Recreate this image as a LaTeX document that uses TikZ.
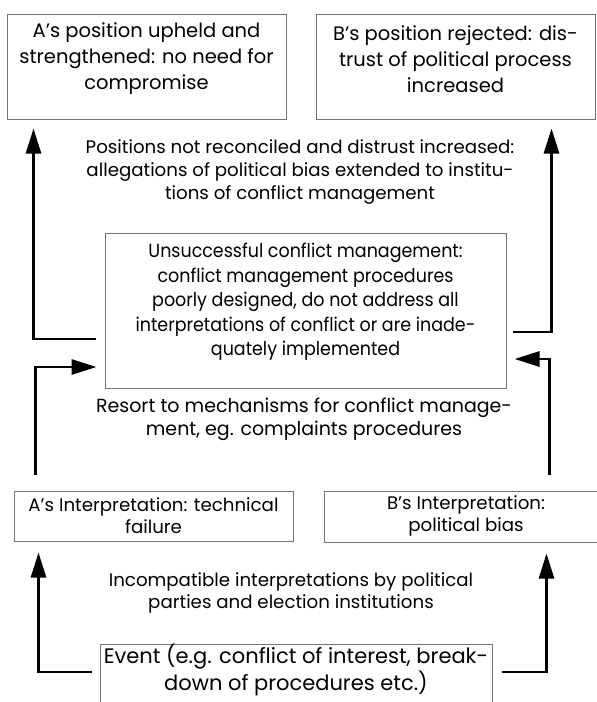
\documentclass[tikz,border=0pt]{standalone}
\usepackage{fontspec}
\setmainfont{Poppins}
\newfontfamily\midfont{Poppins}[FakeStretch=0.92]
\usetikzlibrary{arrows.meta,calc}
\tikzset{
  boxnode/.style={draw=black!55, line width=1pt, rectangle, inner sep=0pt},
  boxtext/.style={align=center, inner sep=0pt, font=\fontsize{19.5}{26}\selectfont},
  midtext/.style={align=center, inner sep=0pt, font=\midfont\fontsize{19}{24.5}\selectfont},
  smalltext/.style={align=center, inner sep=0pt, font=\fontsize{18.2}{22}\selectfont},
  eventtext/.style={align=center, inner sep=0pt, font=\fontsize{21}{24}\selectfont},
  labeltext/.style={align=center, inner sep=0pt, font=\fontsize{18.2}{23}\selectfont},
  arr/.style={line width=2.8pt, -{Triangle[length=25pt,width=15pt]}},
}
\begin{document}
\begin{tikzpicture}[x=1pt,y=-1pt]
\useasboundingbox (0,0) rectangle (597,702);
% boxes
\node[boxnode, minimum width=279, minimum height=105] (apos) at (146.5,66.5) {};
\node[boxnode, minimum width=279, minimum height=105] (bpos) at (455.5,66.5) {};
\node[boxnode, minimum width=401, minimum height=155] (mid) at (305.5,310.5) {};
\node[boxnode, minimum width=279, minimum height=50] (aint) at (153.5,516) {};
\node[boxnode, minimum width=286, minimum height=51] (bint) at (467,516.5) {};
\node[boxnode, minimum width=392, minimum height=76] (event) at (296,682) {};
% box texts
\node[boxtext] (apost) at (146.5,59) {A's position upheld and\\strengthened: no need for\\compromise};
\node[boxtext] (bpost) at (455.5,59) {B's position rejected: dis-\\trust of political process\\increased};
\node[midtext] (midt) at (305.5,302) {Unsuccessful conflict management:\\conflict management procedures\\poorly designed, do not address all\\interpretations of conflict or are inade-\\quately implemented};
\node[smalltext] (aintt) at (153.5,516) {A's Interpretation: technical\\failure};
\node[smalltext] (bintt) at (466,516) {B's Interpretation:\\political bias};
\node[eventtext] (eventt) at (296,670) {Event (e.g. conflict of interest, break-\\down of procedures etc.)};
% labels
\node[labeltext] (lab1) at (300,172) {Positions not reconciled and distrust increased:\\allegations of political bias extended to institu-\\tions of conflict management};
\node[labeltext, font=\fontsize{19}{23}\selectfont] (lab2) at (304,419.5) {Resort to mechanisms for conflict manage-\\ment, eg. complaints procedures};
\node[labeltext, font=\fontsize{18.2}{22}\selectfont] (lab3) at (291,593) {Incompatible interpretations by political\\parties and election institutions};
% connectors
\draw[arr] ($(mid.west)+(-9,28.5)$) -| ($(apos.south west)+(27,9)$);
\draw[arr] ($(mid.east)+(6,21.5)$) -| ($(bpos.south east)+(-44,9)$);
\draw[arr] ($(aint.north west)+(22,-16)$) |- ($(mid.west)+(-8,56.5)$);
\draw[arr] ($(bint.north west)+(226,-16)$) |- ($(mid.east)+(8,48.5)$);
\draw[arr] ($(event.west)+(-8,-10)$) -| ($(aint.south west)+(25,11)$);
\draw[arr] ($(event.east)+(9,-10)$) -| ($(bint.south west)+(223,11)$);
\end{tikzpicture}
\end{document}
